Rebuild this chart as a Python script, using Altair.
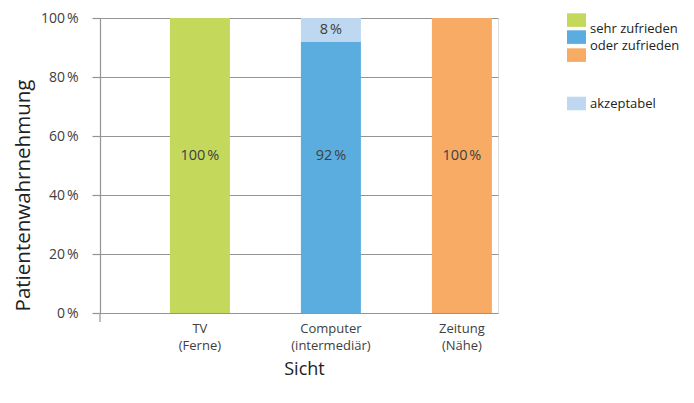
import altair as alt
import pandas as pd

categories = ["TV|(Ferne)", "Computer|(intermediär)", "Zeitung|(Nähe)"]
satisfied = [100, 92, 100]
acceptable = [0, 8, 0]
bar_colors = ["#C4D95C", "#5CADDF", "#F8AB65"]
acceptable_color = "#BDD8F0"
acceptable_name = "akzeptabel"
y_ticks = [0, 20, 40, 60, 80, 100]
legend_main_lines = ["sehr zufrieden", "oder zufrieden"]
legend_acc_label = "akzeptabel"

FONT = "Open Sans"
GRID = "#949494"
TXT = "#404040"
W, H = 398, 295
TOP = 10  # plot top offset inside svg

rows = []
for c, s, a in zip(categories, satisfied, acceptable):
    rows.append({"cat": c, "key": c, "part": 0, "value": s, "base": 0})
    rows.append({"cat": c, "key": acceptable_name, "part": 1, "value": a, "base": s})
df = pd.DataFrame(rows)

xscale = alt.Scale(domain=categories, paddingInner=0.542, paddingOuter=0.29, align=0.92)
yscale = alt.Scale(domain=[0, 100], nice=False)
cscale = alt.Scale(domain=categories + [acceptable_name], range=bar_colors + [acceptable_color])

xaxis = alt.Axis(
    title="Sicht", labelAngle=0, ticks=False, domain=False, grid=False,
    labelExpr="split(datum.label, '|')", labelBaseline="top", labelPadding=9,
    labelLineHeight=17, labelFontSize=13, labelColor=TXT, labelFont=FONT,
    titleFont=FONT, titleFontSize=18, titleFontWeight="normal", titleColor="#222222",
    titleX=204, titleY=56, titleBaseline="middle",
)
yaxis = alt.Axis(
    title="Patientenwahrnehmung", values=y_ticks, labelExpr="datum.value + '\u202f%'",
    grid=True, gridColor=GRID, gridWidth=1.2, tickColor=GRID, tickSize=8, tickWidth=1.2,
    domainColor=GRID, domainWidth=1.2, labelPadding=14, labelFontSize=14, labelColor=TXT,
    labelFont=FONT, titleFont=FONT, titleFontSize=20.5, titleFontWeight="normal",
    titleColor="#222222", titleX=-77, titleY=177, titleBaseline="middle", titleAngle=-90,
)

base = alt.Chart(df)

bars = base.mark_bar().encode(
    x=alt.X("cat:N", scale=xscale, axis=xaxis, sort=categories),
    y=alt.Y("value:Q", scale=yscale, axis=yaxis, stack="zero"),
    color=alt.Color("key:N", scale=cscale, legend=None),
    order=alt.Order("part:Q"),
)

main_text = base.transform_filter("datum.part == 0").transform_calculate(
    lbl="datum.value + '\u202f%'"
).mark_text(font=FONT, fontSize=14.5, color=TXT, dy=-9.5).encode(
    x=alt.X("cat:N", sort=categories),
    y=alt.datum(50),
    text="lbl:N",
)

acc_text = base.transform_filter("datum.part == 1 && datum.value > 0").transform_calculate(
    lbl="datum.value + '\u202f%'", mid="datum.base + datum.value / 2"
).mark_text(font=FONT, fontSize=14.5, color=TXT).encode(
    x=alt.X("cat:N", sort=categories),
    y=alt.Y("mid:Q"),
    text="lbl:N",
)

one = alt.Chart(pd.DataFrame({"a": [0]}))
axis_ext = one.mark_rule(color=GRID, strokeWidth=1.2).encode(
    x=alt.value(0), y=alt.value(H), y2=alt.value(H + 9)
)

# legend positions (page px -> plot px: y - 8 - TOP)
off = 8 + TOP
legend_layers = []
lx0, lx1 = 467, 486
sq_tops = [13.3, 30.3, 48.3]
for col, top in zip(bar_colors, sq_tops):
    legend_layers.append(one.mark_rect(color=col).encode(
        x=alt.value(lx0), x2=alt.value(lx1), y=alt.value(top - off), y2=alt.value(top - off + 13.6)))
legend_layers.append(one.mark_rect(color=acceptable_color).encode(
    x=alt.value(lx0), x2=alt.value(lx1), y=alt.value(96.7 - off), y2=alt.value(110.3 - off)))
for txt, yy in zip(legend_main_lines, [28.5, 46]):
    legend_layers.append(one.mark_text(font=FONT, fontSize=13, color="#222222", align="left",
                                       baseline="middle").encode(
        x=alt.value(490), y=alt.value(yy - off), text=alt.value(txt)))
legend_layers.append(one.mark_text(font=FONT, fontSize=13, color="#222222", align="left",
                                   baseline="middle").encode(
    x=alt.value(490), y=alt.value(103.5 - off), text=alt.value(legend_acc_label)))

chart = alt.layer(bars, main_text, acc_text, axis_ext, *legend_layers).properties(
    width=W, height=H,
    autosize=alt.AutoSizeParams(type="none"),
    padding={"left": 92, "top": TOP, "right": 186, "bottom": 74},
).configure_view(stroke=None).configure(font=FONT, background="white")

chart.save("out.html", embed_options={"renderer": "svg", "actions": False})
